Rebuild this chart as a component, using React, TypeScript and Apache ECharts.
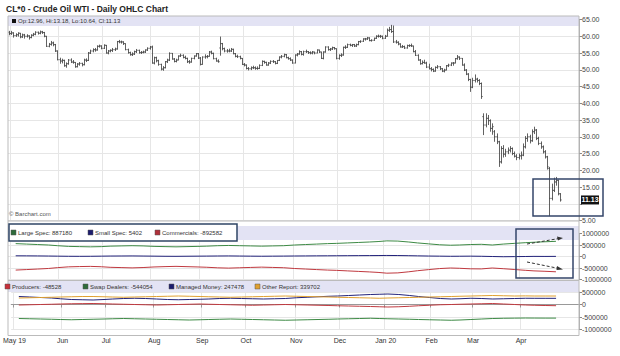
import React, { useEffect, useRef } from "react";
import * as echarts from "echarts";

// ---------- calendar ----------
const HOLIDAYS = ["2019-05-27", "2019-07-04", "2019-09-02", "2019-11-28", "2019-12-25", "2020-01-01", "2020-01-20", "2020-02-17", "2020-04-10"];
const FIRST_DAY = "2019-04-30";
const AXIS_LAST_DAY = "2020-05-08";
const MONTHS = ["Jan", "Feb", "Mar", "Apr", "May", "Jun", "Jul", "Aug", "Sep", "Oct", "Nov", "Dec"];

// ---------- daily OHLC  [open, high, low, close] ----------
const ohlcApr19 = [[61.2, 61.6, 60.3, 60.8]];
const ohlcMay19 = [
  [60.8, 61.6, 60.4, 61.0], [61.0, 61.2, 59.6, 60.2], [60.2, 60.9, 59.8, 60.5], [60.4, 61.2, 59.9, 60.9], [60.9, 61.0, 59.4, 59.8],
  [59.8, 60.8, 59.5, 60.4], [60.4, 60.7, 59.3, 60.0], [60.0, 60.6, 59.6, 60.1], [60.1, 60.3, 59.0, 59.6], [59.6, 60.6, 59.4, 60.3],
  [60.3, 61.0, 60.0, 60.6], [60.6, 61.5, 60.3, 61.2], [61.2, 61.4, 60.5, 60.9], [60.9, 61.7, 60.6, 61.3], [61.3, 61.6, 60.7, 61.1],
  [61.1, 61.3, 59.7, 60.0], [60.0, 60.1, 56.8, 57.0], [57.0, 58.0, 56.7, 57.6], [57.6, 58.6, 57.2, 58.0], [58.0, 58.4, 57.0, 57.5],
  [57.5, 57.7, 55.3, 55.6], [55.6, 55.8, 52.8, 53.0],
];
const ohlcJun19 = [
  [53.0, 53.6, 51.8, 52.6], [52.6, 53.3, 51.9, 52.8], [52.8, 53.0, 50.9, 51.2], [51.2, 52.2, 50.6, 51.8], [51.8, 53.2, 51.5, 52.9],
  [52.9, 53.4, 52.0, 52.3], [52.3, 52.9, 51.8, 52.2], [52.2, 52.3, 50.6, 50.9], [50.9, 52.0, 50.7, 51.7], [51.7, 52.3, 51.2, 51.9],
  [51.9, 52.1, 51.0, 51.5], [51.5, 53.3, 51.3, 52.9], [52.9, 53.4, 52.3, 52.8], [52.8, 55.3, 52.6, 55.0], [55.0, 56.0, 54.7, 55.6],
  [55.6, 56.4, 55.2, 56.0], [56.0, 56.5, 55.4, 55.9], [55.9, 57.3, 55.7, 57.0], [57.0, 57.5, 56.6, 57.1], [57.1, 57.3, 56.1, 56.4],
];
const ohlcJul19 = [
  [56.4, 57.6, 56.2, 57.3], [57.3, 57.4, 54.8, 55.0], [55.0, 55.9, 54.6, 55.6], [55.6, 56.1, 55.2, 55.8], [55.8, 56.5, 55.3, 56.0],
  [56.0, 56.6, 55.6, 56.2], [56.2, 58.6, 56.0, 58.4], [58.4, 58.9, 57.9, 58.3], [58.3, 58.7, 57.8, 58.3], [58.3, 58.5, 57.4, 57.8],
  [57.8, 57.9, 55.8, 56.0], [56.0, 56.3, 54.8, 55.1], [55.1, 55.4, 54.2, 54.5], [54.5, 55.2, 54.1, 54.7], [54.7, 55.7, 54.4, 55.4],
  [55.4, 56.2, 55.0, 55.8], [55.8, 56.0, 54.8, 55.1], [55.1, 55.6, 54.7, 55.2], [55.2, 55.7, 54.9, 55.3], [55.3, 56.1, 55.0, 55.9],
  [55.9, 56.7, 55.6, 56.4], [56.4, 57.1, 56.0, 56.8],
];
const ohlcAug19 = [
  [56.8, 57.2, 51.8, 52.0], [52.0, 53.9, 51.6, 53.6], [53.6, 53.9, 52.2, 52.7], [52.7, 53.0, 51.2, 51.6], [51.6, 51.8, 49.8, 50.2],
  [50.2, 51.1, 49.7, 50.6], [50.6, 52.6, 50.4, 52.4], [52.4, 53.3, 52.0, 52.9], [52.9, 55.2, 52.6, 54.9], [54.9, 55.0, 53.0, 53.2],
  [53.2, 53.5, 52.2, 52.5], [52.5, 53.3, 52.2, 52.9], [52.9, 54.3, 52.8, 54.1], [54.1, 54.8, 53.8, 54.3], [54.3, 54.6, 53.4, 53.7],
  [53.7, 54.2, 53.1, 53.4], [53.4, 53.6, 52.0, 52.4], [52.4, 52.9, 51.8, 52.3], [52.3, 53.6, 52.1, 53.4], [53.4, 54.3, 53.1, 54.1],
  [54.1, 55.0, 53.9, 54.8], [54.8, 55.0, 53.2, 53.5],
];
const ohlcSep19 = [
  [53.5, 53.8, 51.3, 51.6], [51.6, 54.0, 51.5, 53.8], [53.8, 54.6, 53.3, 53.9], [53.9, 54.4, 53.4, 54.0], [54.0, 55.6, 53.9, 55.3],
  [55.3, 55.7, 54.6, 54.9], [54.9, 55.1, 53.1, 53.3], [53.3, 53.6, 52.4, 52.6], [52.6, 53.1, 52.1, 52.4], [56.5, 59.9, 54.2, 57.8],
  [57.8, 58.0, 55.8, 56.3], [56.3, 56.6, 55.2, 55.6], [55.6, 56.2, 55.1, 55.6], [55.6, 56.3, 55.2, 55.6], [55.6, 56.5, 55.3, 56.1],
  [56.1, 56.3, 54.6, 54.8], [54.8, 55.0, 53.7, 54.0], [54.0, 54.5, 53.5, 53.9], [53.9, 54.2, 53.1, 53.4], [53.4, 53.5, 51.4, 51.6],
];
const ohlcOct19 = [
  [51.6, 52.0, 51.0, 51.4], [51.4, 51.6, 50.1, 50.4], [50.4, 50.8, 49.8, 50.3], [50.3, 51.0, 49.9, 50.6], [50.6, 51.2, 50.2, 50.6],
  [50.6, 51.0, 50.0, 50.4], [50.4, 51.0, 50.0, 50.4], [50.4, 51.6, 50.2, 51.3], [51.3, 52.8, 51.1, 52.5], [52.5, 52.7, 51.8, 52.2],
  [52.2, 52.4, 51.2, 51.4], [51.4, 52.3, 51.2, 52.0], [52.0, 52.8, 51.7, 52.5], [52.5, 52.9, 52.0, 52.4], [52.4, 52.6, 51.6, 51.9],
  [51.9, 52.9, 51.7, 52.8], [52.8, 54.0, 52.6, 53.8], [53.8, 54.4, 53.4, 54.0], [54.0, 54.8, 53.7, 54.5], [54.5, 54.7, 53.4, 53.6],
  [53.6, 53.9, 53.0, 53.3], [53.3, 53.7, 52.6, 52.9], [52.9, 53.1, 51.8, 52.0],
];
const ohlcNov19 = [
  [52.0, 54.6, 51.9, 54.4], [54.4, 55.0, 54.0, 54.7], [54.7, 55.8, 54.5, 55.4], [55.4, 55.6, 54.3, 54.6], [54.6, 55.7, 54.2, 55.4],
  [55.4, 56.0, 55.0, 55.4], [55.4, 55.6, 54.7, 55.1], [55.1, 55.5, 54.6, 55.0], [55.0, 55.6, 54.6, 55.3], [55.3, 55.4, 54.6, 55.0],
  [55.0, 56.1, 54.9, 55.9], [55.9, 56.0, 55.0, 55.3], [55.3, 55.4, 53.2, 53.4], [53.4, 55.5, 53.1, 55.3], [55.3, 57.0, 55.1, 56.8],
  [56.8, 57.0, 55.7, 56.0], [56.0, 56.5, 55.6, 56.2], [56.2, 56.9, 55.9, 56.6], [56.6, 56.8, 56.0, 56.3], [56.3, 56.4, 53.1, 53.4],
];
const ohlcDec19 = [
  [53.4, 54.6, 53.0, 54.3], [54.3, 54.9, 53.8, 54.4], [54.4, 56.9, 54.2, 56.7], [56.7, 57.3, 56.2, 56.7], [56.7, 57.8, 56.5, 57.5],
  [57.5, 57.8, 57.0, 57.3], [57.3, 57.7, 56.8, 57.5], [57.5, 57.7, 56.8, 57.1], [57.1, 57.8, 56.8, 57.5], [57.5, 58.6, 57.3, 58.4],
  [58.4, 58.8, 58.0, 58.5], [58.5, 59.4, 58.3, 59.2], [59.2, 59.5, 58.7, 59.2], [59.2, 59.8, 58.9, 59.5], [59.5, 59.7, 58.5, 58.7],
  [58.7, 59.1, 58.4, 58.8], [58.8, 59.6, 58.6, 59.4], [59.4, 60.3, 59.2, 60.0], [60.0, 60.5, 59.6, 60.0], [60.0, 60.4, 59.5, 60.0],
  [60.0, 60.2, 59.1, 59.4],
];
const ohlcJan20 = [
  [59.4, 60.4, 59.2, 60.0], [60.0, 62.3, 59.9, 61.8], [61.8, 62.8, 61.3, 62.0], [62.0, 63.4, 61.0, 61.4], [61.4, 63.2, 58.0, 58.3],
  [58.3, 58.9, 57.8, 58.2], [58.2, 58.5, 57.3, 57.7], [57.7, 57.9, 56.6, 56.8], [56.8, 57.4, 56.5, 56.9], [56.9, 57.2, 56.2, 56.5],
  [56.5, 57.5, 56.3, 57.2], [57.2, 57.6, 56.8, 57.2], [57.2, 57.8, 56.8, 57.1], [57.1, 57.2, 55.2, 55.4], [55.4, 55.9, 54.1, 54.3],
  [54.3, 54.6, 52.7, 52.9], [52.9, 53.2, 51.5, 51.8], [51.8, 52.8, 51.6, 52.2], [52.2, 53.0, 51.8, 52.0], [52.0, 52.4, 50.5, 50.8],
  [50.8, 51.8, 50.1, 50.3],
];
const ohlcFeb20 = [
  [50.3, 50.8, 49.5, 50.1], [50.1, 50.4, 49.3, 49.6], [49.6, 51.0, 49.4, 50.7], [50.7, 51.4, 50.3, 50.9], [50.9, 51.1, 49.9, 50.3],
  [50.3, 50.5, 49.3, 49.6], [49.6, 50.3, 49.2, 49.9], [49.9, 51.4, 49.8, 51.2], [51.2, 51.8, 50.8, 51.4], [51.4, 52.2, 51.1, 52.0],
  [52.0, 52.3, 51.2, 52.0], [52.0, 53.5, 51.9, 53.3], [53.3, 54.4, 53.0, 53.8], [53.8, 54.0, 52.9, 53.4], [53.4, 53.5, 51.2, 51.4],
  [51.4, 51.9, 49.6, 49.9], [49.9, 50.2, 48.4, 48.7], [48.7, 49.0, 46.6, 47.1], [47.1, 47.3, 43.4, 44.8],
];
const ohlcMar20 = [
  [44.8, 47.6, 44.5, 46.8], [46.8, 48.6, 46.2, 47.2], [47.2, 47.6, 46.2, 46.8], [46.8, 47.2, 45.4, 45.9], [45.9, 46.2, 41.3, 42.0],
  [36.0, 37.0, 30.5, 33.5], [33.5, 37.0, 32.8, 35.5], [35.5, 36.5, 33.5, 34.8], [34.8, 35.2, 31.5, 32.5], [32.5, 34.0, 30.6, 33.0],
  [31.5, 32.0, 28.5, 30.0], [30.0, 31.0, 27.8, 28.5], [28.5, 28.8, 21.0, 22.5], [22.5, 27.2, 22.0, 26.5], [26.5, 27.5, 23.8, 24.8],
  [24.8, 26.4, 24.0, 25.5], [25.5, 26.8, 24.8, 26.0], [26.0, 27.2, 25.3, 26.5], [26.5, 26.8, 24.5, 25.0], [25.0, 25.6, 23.8, 24.2],
  [24.2, 24.8, 23.0, 23.8], [23.8, 25.0, 23.2, 24.3],
];
const ohlcApr20 = [
  [24.3, 25.6, 23.2, 24.5], [24.5, 28.0, 24.2, 27.0], [27.0, 30.2, 26.5, 29.5], [29.5, 31.0, 28.5, 30.0], [30.0, 30.6, 28.0, 28.8],
  [28.8, 32.2, 28.5, 31.5], [31.5, 33.0, 30.8, 32.0], [32.0, 32.3, 29.0, 29.5], [29.5, 30.0, 27.5, 28.0], [28.0, 28.6, 26.4, 27.0],
  [27.0, 27.4, 25.0, 25.5], [25.5, 26.0, 23.5, 24.0], [24.0, 24.3, 20.2, 21.0], [20.5, 21.0, 6.3, 11.6], [11.6, 16.0, 11.0, 14.0],
  [14.0, 17.8, 13.5, 16.5], [16.5, 18.0, 15.4, 17.0], [17.0, 17.2, 12.5, 13.0], [12.96, 13.18, 10.64, 11.13],
];

// ---------- weekly COT (thousands of contracts), report weeks ending Friday ----------
const COT_FIRST_FRIDAY = "2019-05-03";
const largeSpec = [560, 540, 520, 500, 470, 440, 430, 420, 430, 450, 460, 470, 460, 440, 430, 420, 430, 440, 450, 470, 480, 470, 460, 450, 460, 470, 500, 520, 540, 560, 570, 590, 610, 630, 650, 680, 670, 630, 590, 550, 510, 490, 500, 520, 530, 500, 540, 570, 600, 620, 640, 660];
const smallSpec = [30, 28, 25, 20, 15, 10, 8, 10, 15, 20, 22, 25, 20, 15, 10, 8, 12, 15, 18, 22, 25, 20, 15, 12, 15, 18, 22, 25, 28, 30, 32, 35, 38, 40, 42, 45, 42, 35, 28, 20, 15, 10, 12, 15, 10, 0, -10, -5, 0, 5, 3, 5];
const commercials = [-590, -568, -545, -520, -485, -450, -438, -430, -445, -470, -482, -495, -480, -455, -440, -428, -442, -455, -468, -492, -505, -490, -475, -462, -475, -488, -522, -545, -568, -590, -602, -625, -648, -670, -692, -725, -712, -665, -618, -570, -525, -500, -512, -535, -540, -500, -530, -565, -600, -625, -643, -665];
const producers = [-20, -10, 0, 10, 20, 30, 35, 40, 30, 20, 10, 0, -10, -20, -10, 0, 10, 20, 10, 0, -10, -20, -30, -20, -10, 0, -10, -20, -30, -40, -50, -60, -70, -80, -90, -100, -90, -70, -50, -30, -10, 0, 10, 20, 30, 40, 20, 0, -20, -30, -40, -48.5];
const swapDealers = [-560, -570, -580, -590, -600, -610, -600, -590, -580, -570, -560, -570, -580, -590, -600, -610, -620, -610, -600, -590, -580, -590, -600, -610, -620, -630, -620, -610, -600, -590, -580, -570, -560, -550, -560, -570, -580, -590, -600, -610, -620, -630, -620, -600, -580, -560, -550, -545, -540, -542, -544, -544];
const managedMoney = [320, 300, 280, 260, 230, 200, 190, 180, 200, 220, 240, 250, 240, 220, 200, 190, 200, 210, 220, 240, 250, 240, 230, 220, 230, 240, 270, 290, 310, 330, 340, 360, 380, 400, 410, 420, 400, 360, 320, 280, 240, 220, 230, 250, 240, 220, 230, 240, 250, 248, 247, 247.5];
const otherReport = [260, 270, 280, 290, 300, 310, 320, 320, 310, 300, 290, 300, 310, 320, 330, 340, 330, 320, 310, 300, 290, 300, 310, 320, 330, 340, 330, 320, 310, 300, 290, 280, 270, 260, 250, 260, 270, 280, 290, 300, 310, 320, 330, 340, 350, 360, 350, 340, 345, 340, 340, 339.7];

const LAST = { open: 12.96, high: 13.18, low: 10.64, close: 11.13 };
const LEGEND_COT1 = [
  { name: "Large Spec", value: 887180, color: "#2e6b3a" },
  { name: "Small Spec", value: 5402, color: "#1c1c6e" },
  { name: "Commercials", value: -892582, color: "#b0303a" },
];
const LEGEND_COT2 = [
  { name: "Producers", value: -48528, color: "#c8303a" },
  { name: "Swap Dealers", value: -544054, color: "#2e6b3a" },
  { name: "Managed Money", value: 247478, color: "#1c1c6e" },
  { name: "Other Report", value: 339702, color: "#e0a030" },
];

// ---------- helpers ----------
function buildDays(start: string, end: string): string[] {
  const hol = new Set(HOLIDAYS);
  const out: string[] = [];
  const d = new Date(start + "T00:00:00Z");
  const e = new Date(end + "T00:00:00Z");
  while (d <= e) {
    const wd = d.getUTCDay();
    const s = d.toISOString().slice(0, 10);
    if (wd !== 0 && wd !== 6 && !hol.has(s)) out.push(s);
    d.setUTCDate(d.getUTCDate() + 1);
  }
  return out;
}

function weeklyDates(firstFriday: string, count: number, days: string[]): string[] {
  const out: string[] = [];
  const d = new Date(firstFriday + "T00:00:00Z");
  for (let k = 0; k < count; k++) {
    let s = d.toISOString().slice(0, 10);
    const t = new Date(d.getTime());
    while (days.indexOf(s) < 0) {
      t.setUTCDate(t.getUTCDate() - 1);
      s = t.toISOString().slice(0, 10);
    }
    out.push(s);
    d.setUTCDate(d.getUTCDate() + 7);
  }
  return out;
}

const FONT = "'Liberation Sans', Arial, sans-serif";

export default function App() {
  const ref = useRef<HTMLDivElement>(null);
  useEffect(() => {
    if (!ref.current) return;
    const chart = echarts.init(ref.current, undefined, { renderer: "svg" });

    const days = buildDays(FIRST_DAY, AXIS_LAST_DAY);
    const ohlc = [
      ...ohlcApr19, ...ohlcMay19, ...ohlcJun19, ...ohlcJul19, ...ohlcAug19, ...ohlcSep19, ...ohlcOct19,
      ...ohlcNov19, ...ohlcDec19, ...ohlcJan20, ...ohlcFeb20, ...ohlcMar20, ...ohlcApr20,
    ];
    const lastIdx = ohlc.length - 1;
    const monthStart = days.map((d, i) => i > 0 && i <= lastIdx && d.slice(5, 7) !== days[i - 1].slice(5, 7));
    const firstLabelIdx = monthStart.indexOf(true);
    const labelFmt = (v: string) => {
      const i = days.indexOf(v);
      const m = MONTHS[+v.slice(5, 7) - 1];
      if (i === firstLabelIdx || v.slice(5, 7) === "01") return m + " " + v.slice(2, 4);
      return m;
    };
    const isMonth = (idx: number) => !!monthStart[idx];

    const wd = weeklyDates(COT_FIRST_FRIDAY, largeSpec.length, days);
    const cot = (arr: number[]) => arr.map((v, k) => [wd[k], v * 1000]);

    const L = 8, R = 41;
    const PLOT_W = 620 - L - R;
    const gridLine = { show: true, lineStyle: { color: "#e6e6e6", width: 1 } };

    const xBase = (gi: number, showLabels: boolean) => ({
      type: "category",
      gridIndex: gi,
      data: days,
      boundaryGap: true,
      axisLine: { show: showLabels, lineStyle: { color: "#999" } },
      axisTick: { show: showLabels, interval: (i: number) => isMonth(i), length: 3, lineStyle: { color: "#999" } },
      axisLabel: {
        show: showLabels, interval: (i: number) => isMonth(i), formatter: labelFmt,
        fontSize: 7, color: "#333", fontFamily: FONT, margin: 7,
      },
      splitLine: { show: true, interval: (i: number) => isMonth(i), lineStyle: { color: "#e6e6e6" } },
    });
    const yBase = (gi: number, min: number, max: number, interval: number, fmt: (v: number) => string) => ({
      type: "value",
      gridIndex: gi,
      position: "right",
      min, max, interval,
      axisLine: { show: true, lineStyle: { color: "#aaa" } },
      axisTick: { show: true, length: 3, lineStyle: { color: "#888" } },
      axisLabel: { fontSize: 7, color: "#444", fontFamily: FONT, margin: 3, formatter: fmt },
      splitLine: gridLine,
    });

    const ohlcData = ohlc.map((r, i) => [i, r[0], r[1], r[2], r[3]]);

    const legendItems = (items: typeof LEGEND_COT1, xs: number[], y: number) => {
      const out: any[] = [];
      items.forEach((it, k) => {
        out.push({ type: "rect", z: 20, shape: { x: xs[k], y: y - 2.5, width: 5, height: 5 }, style: { fill: it.color, stroke: "#555", lineWidth: 0.5 } });
        out.push({ type: "text", z: 20, x: xs[k] + 7, y, style: { text: it.name + ": " + it.value, fontSize: 6, fontFamily: FONT, fill: "#333", verticalAlign: "middle" } });
      });
      return out;
    };

    const graphics: any[] = [
      { type: "text", x: 6, y: 9, style: { text: "CL*0 - Crude Oil WTI - Daily OHLC Chart", fontSize: 8.5, fontWeight: "bold", fontFamily: FONT, fill: "#222", verticalAlign: "middle" } },
      // header bands
      { type: "rect", z: 0, shape: { x: L, y: 16, width: PLOT_W, height: 10 }, style: { fill: "#e3e3f4" } },
      { type: "rect", z: 0, shape: { x: L, y: 226, width: PLOT_W, height: 14 }, style: { fill: "#e3e3f4" } },
      { type: "rect", z: 0, shape: { x: L, y: 281, width: PLOT_W, height: 11 }, style: { fill: "#e3e3f4" } },
      // header OHLC text
      { type: "rect", z: 20, shape: { x: 12, y: 19, width: 4, height: 4 }, style: { fill: "#111" } },
      { type: "text", z: 20, x: 18, y: 21.2, style: { text: `Op:${LAST.open}, Hi:${LAST.high}, Lo:${LAST.low}, Cl:${LAST.close}`, fontSize: 6, fontFamily: FONT, fill: "#333", verticalAlign: "middle" } },
      { type: "text", z: 20, x: 9, y: 214, style: { text: "\u00A9 Barchart.com", fontSize: 6, fontFamily: FONT, fill: "#555", verticalAlign: "middle" } },
      // frame & separators
      { type: "rect", z: 15, shape: { x: L, y: 16, width: PLOT_W, height: 319.5 }, style: { fill: "none", stroke: "#bbb", lineWidth: 1 } },
      { type: "line", z: 15, shape: { x1: L, y1: 221, x2: L + PLOT_W, y2: 221 }, style: { stroke: "#bbb", lineWidth: 1 } },
      { type: "line", z: 15, shape: { x1: L, y1: 280.5, x2: L + PLOT_W, y2: 280.5 }, style: { stroke: "#bbb", lineWidth: 1 } },
      // COT1 legend box
      { type: "rect", z: 18, shape: { x: 9, y: 224, width: 228, height: 17 }, style: { fill: "#fff", stroke: "#2f4566", lineWidth: 1.5 } },
      ...legendItems(LEGEND_COT1, [11, 88, 155], 232.5),
      ...legendItems(LEGEND_COT2, [5, 83, 169, 255], 286.5),
      // annotations
      { type: "rect", z: 30, shape: { x: 533, y: 179, width: 70, height: 37 }, style: { fill: "none", stroke: "#34466a", lineWidth: 1.5 } },
      { type: "rect", z: 30, shape: { x: 516, y: 229, width: 57, height: 49 }, style: { fill: "none", stroke: "#34466a", lineWidth: 1.5 } },
      { type: "line", z: 30, shape: { x1: 527, y1: 244, x2: 559, y2: 238.5 }, style: { stroke: "#333", lineWidth: 1, lineDash: [3, 2] } },
      { type: "polygon", z: 30, shape: { points: [[563, 238], [557, 236.5], [558, 240.5]] }, style: { fill: "#333" } },
      { type: "line", z: 30, shape: { x1: 527, y1: 262, x2: 559, y2: 268.5 }, style: { stroke: "#333", lineWidth: 1, lineDash: [3, 2] } },
      { type: "polygon", z: 30, shape: { points: [[563, 269.5], [557, 266], [556.5, 270]] }, style: { fill: "#333" } },
    ];

    const lineSeries = (name: string, data: any[], color: string, xi: number) => ({
      name, type: "line", xAxisIndex: xi, yAxisIndex: xi, data, showSymbol: false, symbol: "none",
      lineStyle: { color, width: 1 }, z: 3,
    });

    chart.setOption({
      animation: false,
      textStyle: { fontFamily: FONT },
      grid: [
        { left: L, right: R, top: 19.5, height: 201 },
        { left: L, right: R, top: 233.5, height: 46 },
        { left: L, right: R, top: 292, height: 37.5 },
      ],
      xAxis: [xBase(0, false), xBase(1, false), xBase(2, true)],
      yAxis: [
        // the 10.00 label sits under the last-price marker, as in the reference
        yBase(0, 5, 65, 5, (v) => (v === 10 ? "" : v.toFixed(2))),
        yBase(1, -1000000, 1000000, 500000, (v) => String(v)),
        yBase(2, -1000000, 500000, 500000, (v) => String(v)),
      ],
      series: [
        {
          type: "custom",
          name: "CL*0",
          xAxisIndex: 0,
          yAxisIndex: 0,
          data: ohlcData,
          dimensions: ["idx", "open", "high", "low", "close"],
          encode: { x: 0, y: [1, 2, 3, 4] },
          z: 5,
          renderItem: (params: any, api: any) => {
            const idx = api.value(0);
            const h = api.coord([idx, api.value(2)]);
            const l = api.coord([idx, api.value(3)]);
            const o = api.coord([idx, api.value(1)]);
            const c = api.coord([idx, api.value(4)]);
            const x = Math.round(h[0]) + 0.5;
            const st = { stroke: "#3a3a3a", lineWidth: 0.8 };
            return {
              type: "group",
              children: [
                { type: "line", shape: { x1: x, y1: h[1], x2: x, y2: l[1] }, style: st },
                { type: "line", shape: { x1: x - 1.2, y1: o[1], x2: x, y2: o[1] }, style: st },
                { type: "line", shape: { x1: x, y1: c[1], x2: x + 1.2, y2: c[1] }, style: st },
              ],
            };
          },
        },
        lineSeries("Large Spec", cot(largeSpec), "#3d8a45", 1),
        lineSeries("Small Spec", cot(smallSpec), "#22227a", 1),
        lineSeries("Commercials", cot(commercials), "#c0393f", 1),
        lineSeries("Producers", cot(producers), "#c0393f", 2),
        lineSeries("Swap Dealers", cot(swapDealers), "#3d8a45", 2),
        lineSeries("Managed Money", cot(managedMoney), "#22227a", 2),
        lineSeries("Other Report", cot(otherReport), "#e0a030", 2),
      ],
    });

    // last-price marker on the price axis, placed through the price scale
    const yLast = chart.convertToPixel({ yAxisIndex: 0 }, LAST.close) as number;
    const xAxisRight = 620 - R;
    const lastMarker = [
      { type: "rect", z: 40, shape: { x: xAxisRight + 2, y: yLast - 4.5, width: 18, height: 9 }, style: { fill: "#111" } },
      { type: "text", z: 41, x: xAxisRight + 11, y: yLast, style: { text: LAST.close.toFixed(2), fontSize: 7, fontWeight: "bold", fontFamily: FONT, fill: "#fff", align: "center", verticalAlign: "middle" } },
    ];
    chart.setOption({ graphic: [...graphics, ...lastMarker] });

    return () => chart.dispose();
  }, []);

  return <div ref={ref} style={{ position: "fixed", left: 0, top: 0, width: 620, height: 356, background: "#fff" }} />;
}
